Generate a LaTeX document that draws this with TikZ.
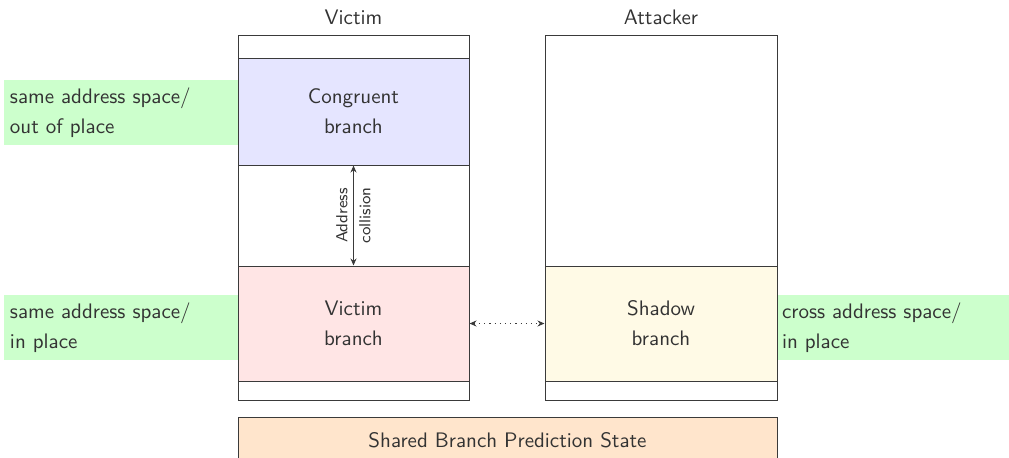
\documentclass[tikz,border=0pt]{standalone}
\usetikzlibrary{arrows.meta}
\definecolor{txt}{HTML}{333333}
\definecolor{edge}{HTML}{3A3A3A}
\definecolor{cream}{HTML}{FFFAE6}
\begin{document}
\begin{tikzpicture}[x=0.5pt,y=-0.5pt,
  every node/.style={font=\sffamily\fontsize{10.5}{15}\selectfont, text=txt},
  box/.style={draw=edge, line width=0.5pt, rectangle, inner sep=0pt},
  lbl/.style={rectangle, fill=green!20, inner xsep=3pt, inner ysep=0pt, align=left, text width=111pt, minimum height=32.5pt},
  tip/.style={{Stealth[length=3.5pt,width=3pt]}-{Stealth[length=3.5pt,width=3pt]}}]
\useasboundingbox (0,0) rectangle (1009,457);
\clip (0,0) rectangle (1009,457);
% labels (drawn first so box borders stay on top)
\node[lbl] (l1) at (121,112.5) {same address space/\\out of place};
\node[lbl] (l2) at (121,327.5) {same address space/\\in place};
\node[lbl] (l3) at (893,327.5) {cross address space/\\in place};
% column titles
\node (vt) at (353.5,17) {Victim};
\node (at) at (661,17) {Attacker};
% victim column
\node[box, minimum width=115.5pt, minimum height=182.5pt] (vbox) at (353.5,217.5) {};
\node[box, fill=blue!10, minimum width=115.5pt, minimum height=53.5pt, align=center] (cong) at (353.5,111.5) {Congruent\\branch};
\node[box, fill=red!10, minimum width=115.5pt, minimum height=57.5pt, align=center] (vbr) at (353.5,323.5) {Victim\\branch};
% attacker column
\node[box, minimum width=116pt, minimum height=182.5pt] (abox) at (661,217.5) {};
\node[box, fill=cream, minimum width=116pt, minimum height=57.5pt, align=center] (shadow) at (661,323.5) {Shadow\\branch};
% shared state
\node[box, fill=orange!20, minimum width=269.5pt, minimum height=23pt] (shared) at (507.5,440.5) {Shared Branch Prediction State};
% connectors
\draw[tip, line width=0.6pt, edge] (cong.south) -- (vbr.north)
  node[midway, rotate=90, align=center, font=\sffamily\fontsize{8}{11.5}\selectfont] (ac) {Address\\collision};
\draw[tip, dotted, line width=0.6pt, edge] (vbr.east) -- (shadow.west);
\end{tikzpicture}
\end{document}
